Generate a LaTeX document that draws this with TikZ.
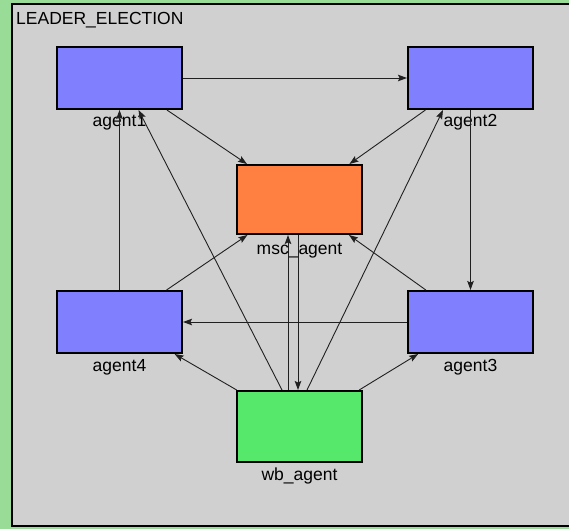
\documentclass[tikz,border=0pt]{standalone}
\usepackage{fontspec}
\setmainfont{Liberation Sans}
\usetikzlibrary{arrows.meta,calc}
\definecolor{outergreen}{HTML}{98DC98}
\definecolor{panelgray}{HTML}{D0D0D0}
\definecolor{agentblue}{HTML}{8080FF}
\definecolor{mscorange}{HTML}{FF8040}
\definecolor{wbgreen}{HTML}{56E86A}
\definecolor{edgegray}{HTML}{202020}
\begin{document}
\begin{tikzpicture}[x=1pt,y=-1pt,
  box/.style={draw=black,line width=2pt,inner sep=0pt,minimum width=125pt,minimum height=62pt},
  lbl/.style={anchor=base,inner sep=0pt,font=\fontsize{17.5}{20}\selectfont},
  edge/.style={draw=edgegray,line width=0.9pt,-{Stealth[length=9pt,width=6.5pt,inset=1.5pt]}}]
\useasboundingbox (0,0) rectangle (569,529);
\fill[outergreen] (0,0) rectangle (569,529);
\draw[fill=panelgray,line width=2pt] (12,4) rectangle (575,526);
\node[anchor=base west,inner sep=0pt,font=\fontsize{17.5}{20}\selectfont] (title) at (16,25) {LEADER\_ELECTION};

\node[box,fill=agentblue] (a1) at (119.5,78) {};
\node[box,fill=agentblue] (a2) at (470.5,78) {};
\node[box,fill=mscorange,minimum height=69pt] (msc) at (299.5,199.5) {};
\node[box,fill=agentblue] (a4) at (119.5,322) {};
\node[box,fill=agentblue] (a3) at (470.5,322) {};
\node[box,fill=wbgreen,minimum height=71pt] (wb) at (299.5,426.5) {};

\node[lbl] (a1l) at (119.5,127) {agent1};
\node[lbl] (a2l) at (470.5,127) {agent2};
\node[lbl] (mscl) at (299.5,254) {msc\_agent};
\node[lbl] (a4l) at (119.5,371) {agent4};
\node[lbl] (a3l) at (470.5,371) {agent3};
\node[lbl] (wbl) at (299.5,480) {wb\_agent};

\draw[edge] (a1.east) -- (a2.west);
\draw[edge] (a1) -- (msc);
\draw[edge] (a2) -- (msc);
\draw[edge] (a2.south) -- (a3.north);
\draw[edge] (a4.north) -- (a1.south);
\draw[edge] (a3.west) -- (a4.east);
\draw[edge] (a4) -- (msc);
\draw[edge] (a3) -- (msc);
\draw[edge] (wb) -- (a4);
\draw[edge] (wb) -- (a3);
\draw[edge] ($(wb.north)+(-17.5,0)$) -- ($(a1.south)+(19,0)$);
\draw[edge] ($(wb.north)+(7.5,0)$) -- ($(a2.south)+(-27.5,0)$);
\draw[edge] ($(wb.north)+(-11.5,0)$) -- ($(msc.south)+(-11.5,0)$);
\draw[edge] ($(msc.south)+(-1.5,0)$) -- ($(wb.north)+(-1.5,0)$);
\end{tikzpicture}
\end{document}
